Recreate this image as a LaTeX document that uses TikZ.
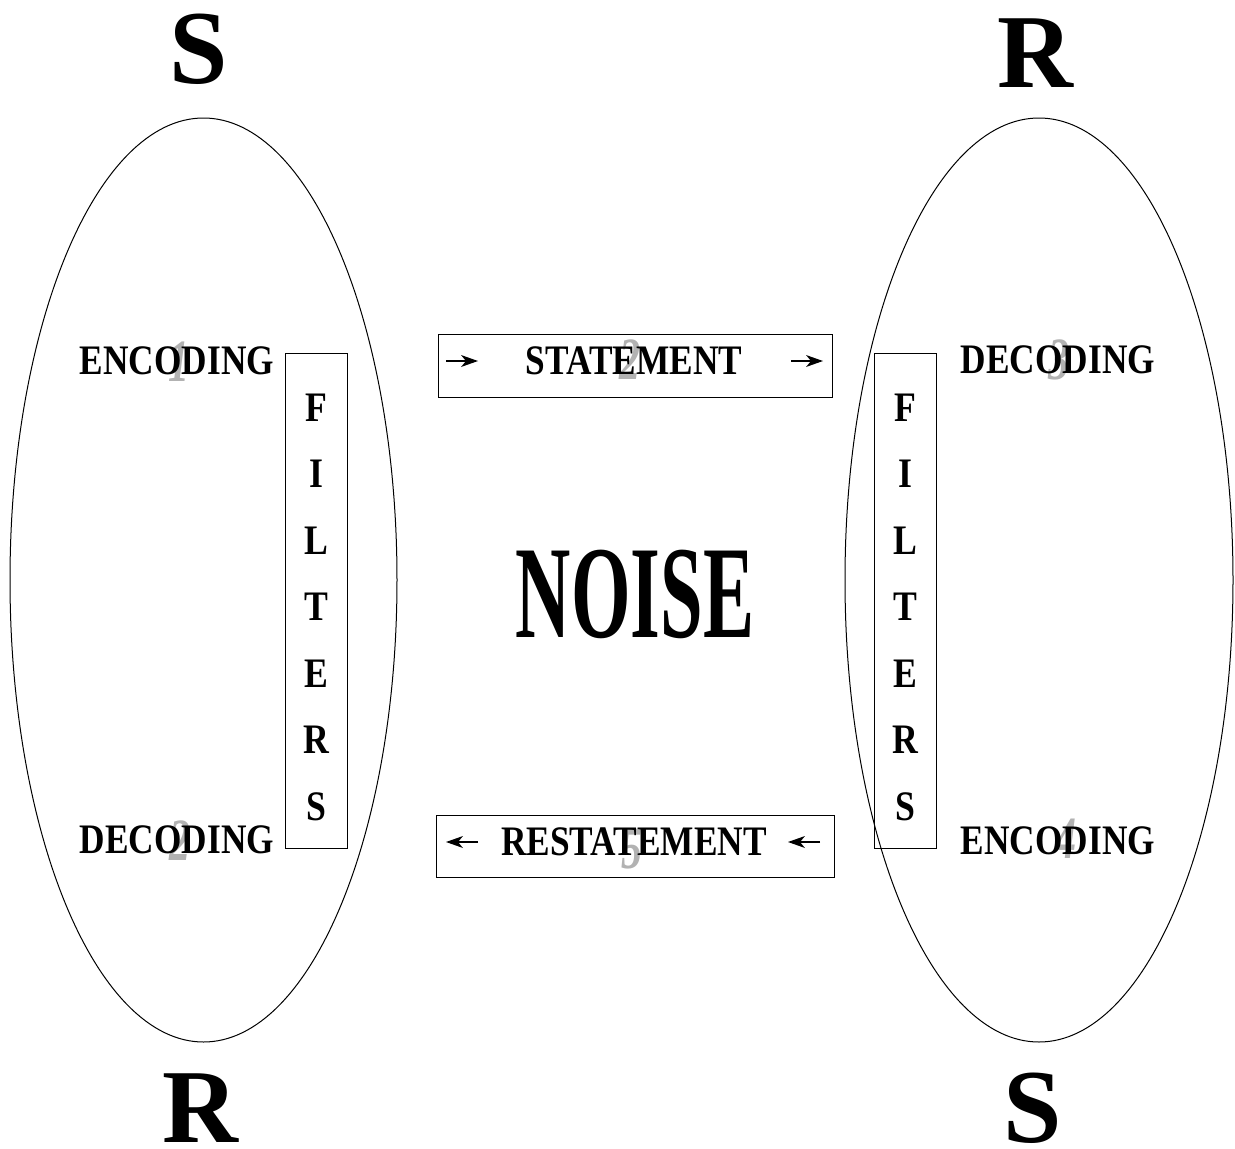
\documentclass[tikz,border=0pt]{standalone}
\usepackage{fontspec}
\setmainfont{Liberation Serif}
\usetikzlibrary{shapes.geometric,arrows.meta}
\begin{document}
\begin{tikzpicture}[x=1pt,y=-1pt,
  lbl/.style={font=\fontsize{42}{42}\bfseries\selectfont, inner sep=0},
  num/.style={font=\fontsize{60}{60}\bfseries\itshape\selectfont, text=black!30, inner sep=0},
  big/.style={font=\fontsize{105}{105}\bfseries\selectfont, inner sep=0},
  boxst/.style={draw, line width=1pt, inner sep=0},
  ring/.style={draw, ellipse, line width=1pt, inner sep=0},
  shaft/.style={line width=2.2pt},
  head/.style={fill=black}]
\useasboundingbox (0,0) rectangle (1235,1149);

% ellipses
\node[ring, minimum width=387pt, minimum height=924pt] (lell) at (203.5,580) {};
\node[ring, minimum width=388pt, minimum height=924pt] (rell) at (1039,580) {};

% big letters
\node[big] (s1) at (199,49) {S};
\node[big] (r1) at (1035,53) {R};
\node[big] (r2) at (200,1108) {R};
\node[big] (s2) at (1033,1108) {S};

% filters boxes
\node[boxst, minimum width=62pt, minimum height=495pt] (lf) at (316,600.5) {};
\node[boxst, minimum width=62pt, minimum height=495pt] (rf) at (905,600.5) {};
\foreach \l [count=\i] in {F,I,L,T,E,R,S}{
  \node[lbl] (lf\i) at (316,341+66.5*\i) {\scalebox{0.85}[1]{\l}};
  \node[lbl] (rf\i) at (905,341+66.5*\i) {\scalebox{0.85}[1]{\l}};
}

% statement boxes
\node[boxst, minimum width=394pt, minimum height=63pt] (stb) at (635,365.5) {};
\node[boxst, minimum width=398pt, minimum height=62pt] (rstb) at (635,846) {};

% gray numbers
\node[num] (n1) at (179,362) {\scalebox{0.7}[1]{1}};
\node[num] (n2) at (630,360) {\scalebox{0.7}[1]{2}};
\node[num] (n3) at (1059,360) {\scalebox{0.7}[1]{3}};
\node[num] (n2b) at (180,841) {\scalebox{0.7}[1]{2}};
\node[num] (n4) at (1066,839) {\scalebox{0.7}[1]{4}};
\node[num] (n5) at (632,849) {\scalebox{0.7}[1]{5}};

% labels
\node[lbl] (enc1) at (177,361) {\scalebox{0.84}[1]{ENCODING}};
\node[lbl] (dec1) at (177,840) {\scalebox{0.84}[1]{DECODING}};
\node[lbl] (dec2) at (1058,360) {\scalebox{0.84}[1]{DECODING}};
\node[lbl] (enc2) at (1058,841) {\scalebox{0.84}[1]{ENCODING}};
\node[lbl] (st) at (634,361) {\scalebox{0.84}[1]{STATEMENT}};
\node[lbl] (rst) at (634,842) {\scalebox{0.84}[1]{RESTATEMENT}};

% noise
\node[font=\fontsize{132}{132}\bfseries\selectfont, inner sep=0] (noise) at (635,594) {\scalebox{0.58}[1]{NOISE}};

% arrows (shaft + filled stealth head)
\coordinate (a1s) at (446,361); \coordinate (a1e) at (478,361);
\coordinate (a2s) at (791,361); \coordinate (a2e) at (823,361);
\coordinate (a3s) at (478,842); \coordinate (a3e) at (446,842);
\coordinate (a4s) at (820,842); \coordinate (a4e) at (788,842);
\draw[shaft] (a1s) -- ([xshift=-10pt]a1e);
\draw[shaft] (a2s) -- ([xshift=-10pt]a2e);
\draw[shaft] (a3s) -- ([xshift=10pt]a3e);
\draw[shaft] (a4s) -- ([xshift=10pt]a4e);
\fill[head] (a1e) -- ++(-17,-6) -- ++(5,6) -- ++(-5,6) -- cycle;
\fill[head] (a2e) -- ++(-17,-6) -- ++(5,6) -- ++(-5,6) -- cycle;
\fill[head] (a3e) -- ++(17,-6) -- ++(-5,6) -- ++(5,6) -- cycle;
\fill[head] (a4e) -- ++(17,-6) -- ++(-5,6) -- ++(5,6) -- cycle;
\end{tikzpicture}
\end{document}
